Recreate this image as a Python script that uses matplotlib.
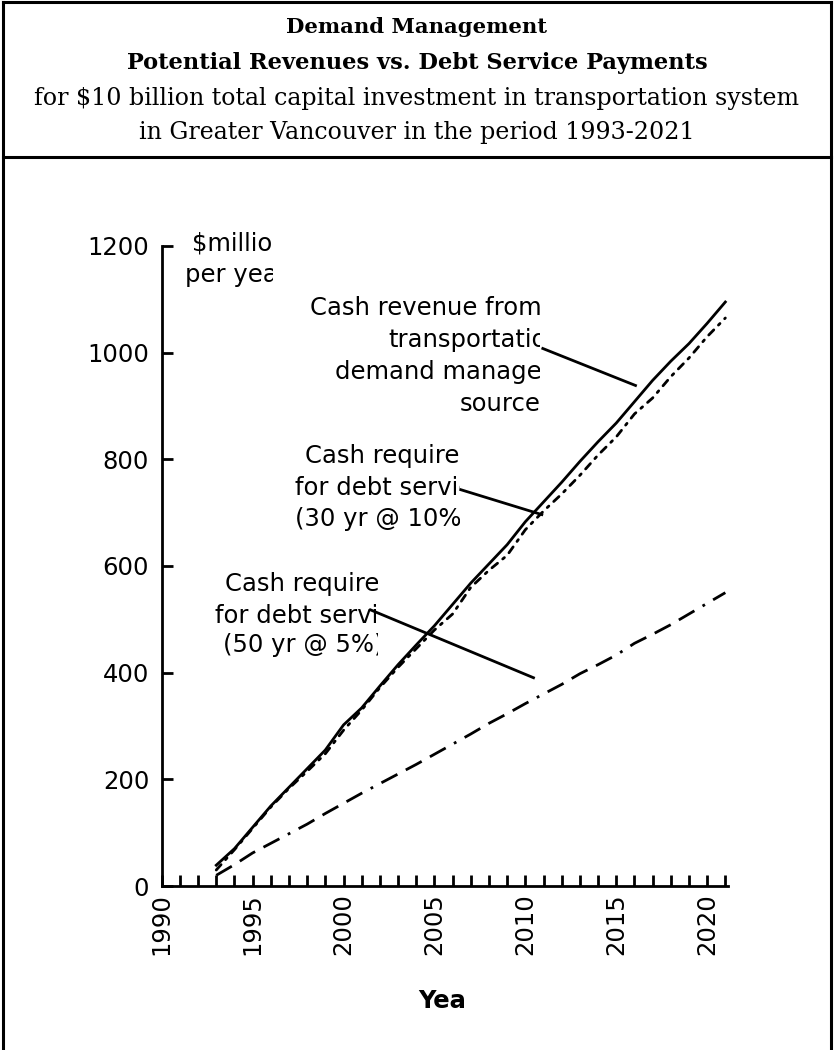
import matplotlib
matplotlib.use("Agg")
import matplotlib.pyplot as plt
from matplotlib.lines import Line2D
from matplotlib.transforms import Bbox, TransformedBbox
from matplotlib.ticker import MultipleLocator

# ---------------- data ----------------
years = list(range(1993, 2022))
revenue_tdm = [39, 70, 110, 150, 185, 220, 255, 302, 334, 375, 415, 452, 488, 528,
               568, 604, 640, 683, 720, 757, 796, 833, 868, 908, 948, 984, 1017, 1055, 1095]
debt_30yr_10pct = [30, 68, 108, 148, 183, 215, 248, 292, 330, 372, 410, 445, 480, 510,
                   560, 592, 620, 668, 703, 735, 770, 808, 842, 885, 915, 955, 990, 1030, 1065]
debt_50yr_5pct = [20, 40, 62, 80, 98, 116, 136, 155, 174, 192, 210, 228, 247, 266,
                  285, 305, 323, 342, 360, 378, 398, 415, 433, 455, 472, 490, 510, 530, 550]

title_lines = ["Demand Management",
               "Potential Revenues vs. Debt Service Payments",
               "for $10 billion total capital investment in transportation system",
               "in Greater Vancouver in the period 1993-2021"]
y_ticks = [0, 200, 400, 600, 800, 1000, 1200]
x_major = [1990, 1995, 2000, 2005, 2010, 2015, 2020]

W, H = 834, 1050
fig = plt.figure(figsize=(W / 100, H / 100), dpi=100)
fig.patch.set_facecolor("white")

def fx(x):
    return x / W

def fy(y):
    return 1 - y / H

# ---------------- frame ----------------
frame_lw = 2.2
for (x0, y0, x1, y1) in [(3, 2, 831, 2), (3, 2, 3, 1050), (831, 2, 831, 1050), (3, 157, 831, 157)]:
    fig.add_artist(Line2D([fx(x0), fx(x1)], [fy(y0), fy(y1)], transform=fig.transFigure,
                          color="black", lw=frame_lw, solid_capstyle="projecting"))

# ---------------- title ----------------
title_y = [27, 63, 99, 132]
title_sizes = [15.2, 16.2, 17.1, 17.1]
for i, (line, yy, fs) in enumerate(zip(title_lines, title_y, title_sizes)):
    fig.text(0.5, fy(yy), line, ha="center", va="center", family="DejaVu Serif",
             fontsize=fs, fontweight="bold" if i < 2 else "normal")

# ---------------- axes ----------------
x_left, x_right, y_bottom, y_top = 161.7, 727.7, 886, 246
ax = fig.add_axes([fx(x_left), fy(y_bottom), (x_right - x_left) / W, (y_bottom - y_top) / H])
ax.set_xlim(1990, 2021.13)
ax.set_ylim(0, 1200)
for s in ["top", "right"]:
    ax.spines[s].set_visible(False)
for s in ["left", "bottom"]:
    ax.spines[s].set_linewidth(2)

ax.set_yticks(y_ticks)
ax.set_xticks(x_major)
ax.xaxis.set_minor_locator(MultipleLocator(1))
ax.tick_params(axis="both", which="both", direction="in", length=8, width=2)
ax.tick_params(axis="y", labelsize=17.5, pad=9)
ax.tick_params(axis="x", labelsize=17.5, pad=5, labelrotation=90)
for lab in ax.get_xticklabels() + ax.get_yticklabels():
    lab.set_family("DejaVu Sans")

lw = 2.0
ax.plot(years, revenue_tdm, color="black", lw=lw, solid_joinstyle="round")
ax.plot(years, debt_30yr_10pct, color="black", lw=lw, dashes=(2.6, 2.4, 0.8, 2.4),
        dash_capstyle="round")
ax.plot(years, debt_50yr_5pct, color="black", lw=lw,
        dashes=(6.5, 3.4, 6.5, 3.4, 6.5, 3.4, 1.0, 3.4), dash_capstyle="butt")

# leader lines (data coordinates)
leaders = [((2010.89, 1008.8), (2016.13, 937.5)),
           ((2006.38, 743.8), (2010.98, 695.6)),
           ((2001.41, 518.8), (2010.52, 389.5))]
for (a, b) in leaders:
    ax.plot([a[0], b[0]], [a[1], b[1]], color="black", lw=2.0, solid_capstyle="butt")

# ---------------- clipped text labels ----------------
def clipped_lines(lines, lefts, baselines, clip_right, size=17.5, weight="normal"):
    for txt, x, y in zip(lines, lefts, baselines):
        t = fig.text(fx(x), fy(y), txt, ha="left", va="baseline", fontsize=size,
                     family="DejaVu Sans", fontweight=weight)
        box = Bbox.from_extents(0, 0, fx(clip_right), 1)
        t.set_clip_box(TransformedBbox(box, fig.transFigure))
        t.set_clip_on(True)

clipped_lines(["$millions", "per year"], [192, 185], [251, 282], 273)
clipped_lines(["Cash revenue from", "transportation", "demand management", "sources"],
              [310, 388, 335, 460], [315, 347, 379, 411], 540)
clipped_lines(["Cash required", "for debt service", "(30 yr @ 10%)"],
              [305, 295, 295], [463, 495, 526], 460)
clipped_lines(["Cash required", "for debt service", "(50 yr @ 5%)"],
              [225, 215, 223], [591, 623, 652], 378)
clipped_lines(["Year"], [418], [1008], 466, size=17.5, weight="bold")

fig.savefig("out.png", dpi=100, facecolor="white")
